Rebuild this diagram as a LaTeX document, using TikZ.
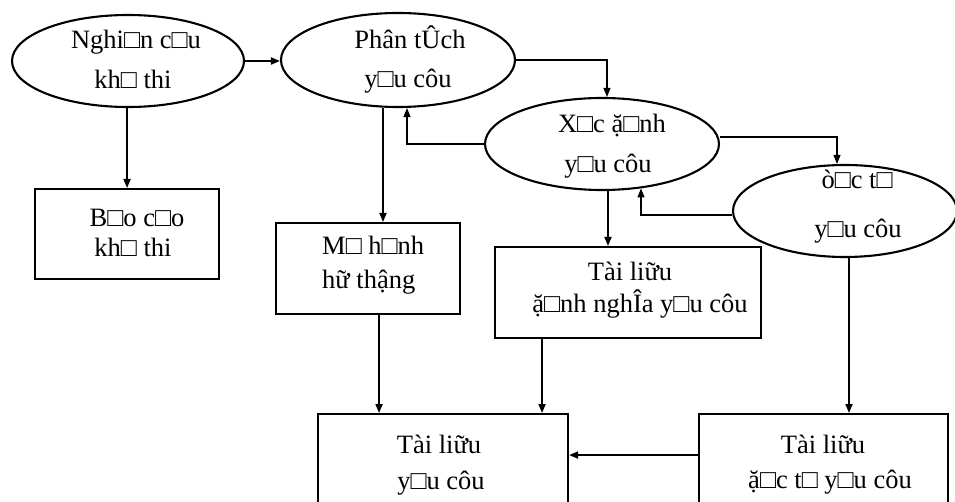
\documentclass[tikz,border=0pt]{standalone}
\usepackage{fontspec}
\setmainfont{Liberation Serif}
\usetikzlibrary{shapes.geometric,arrows.meta}
\begin{document}
\begin{tikzpicture}[x=1bp,y=-1bp,
  outline/.style={draw,line width=2.1bp},
  oval/.style={outline,ellipse,inner sep=0pt},
  card/.style={outline,rectangle,inner sep=0pt,anchor=north west},
  lbl/.style={anchor=base,inner sep=0pt,font=\fontsize{26.5bp}{30bp}\selectfont},
  lbll/.style={lbl,anchor=base west},
  arr/.style={line width=1.8bp,-{Triangle[length=9bp,width=7bp]}},
  fine/.style={line width=1.1bp,-{Triangle[length=9bp,width=7bp]}}]
\useasboundingbox (0,0) rectangle (955,502);

% process ovals
\node[oval,minimum width=232bp,minimum height=92bp] (e1) at (128,61) {};
\node[oval,minimum width=234bp,minimum height=94bp] (e2) at (398,60) {};
\node[oval,minimum width=234bp,minimum height=92bp] (e3) at (602,144) {};
\node[oval,minimum width=224bp,minimum height=92bp] (e4) at (845,211) {};

% document boxes
\node[card,minimum width=184bp,minimum height=90bp] (b1) at (34,188) {};
\node[card,minimum width=184bp,minimum height=91bp] (b2) at (275,222) {};
\node[card,minimum width=266bp,minimum height=91bp] (b3) at (494,246) {};
\node[card,minimum width=250bp,minimum height=120bp] (b4) at (317,413) {};
\node[card,minimum width=249bp,minimum height=120bp] (b5) at (698,413) {};

% labels
\node[lbl] (t1a) at (136,49) {Nghi□n c□u};
\node[lbl] (t1b) at (133,89) {kh□ thi};
\node[lbl] (t2a) at (410,49) {Phân tÛch};
\node[lbl] (t2b) at (408,88) {y□u côu};
\node[lbl] (t3a) at (612,133) {X□c ặ□nh};
\node[lbl] (t3b) at (608,173) {y□u côu};
\node[lbl] (t4a) at (857,189) {ò□c t□};
\node[lbl] (t4b) at (858,238) {y□u côu};
\node[lbl] (u1a) at (137,227) {B□o c□o};
\node[lbl] (u1b) at (133,257) {kh□ thi};
\node[lbll] (u2a) at (322,255) {M□ h□nh};
\node[lbll] (u2b) at (322,289) {hữ thậng};
\node[lbl] (u3a) at (630,281) {Tài liữu};
\node[lbl] (u3b) at (640,313) {ặ□nh nghÎa y□u côu};
\node[lbl] (u4a) at (439,453) {Tài liữu};
\node[lbl] (u4b) at (441,489) {y□u côu};
\node[lbl] (u5a) at (823,453) {Tài liữu};
\node[lbl] (u5b) at (830,488) {ặ□c t□ y□u côu};

% flow between ovals
\draw[arr] (e1.east) -- (e1.east -| e2.west);
\draw[fine] (e2.east) -| ([xshift=5bp]e3.north);
\draw[fine] ([yshift=7bp]e3.east) -| ([xshift=-8bp]e4.north);
\draw[fine] (e3.west) -| ([xshift=9bp]e2.south);
\draw[fine] ([yshift=-4bp]e4.west) -| ([xshift=39bp,yshift=2.6bp]e3.south);

% ovals to documents
\draw[arr] (e1.south -| b1.north) -- (b1.north);
\draw[arr] ([xshift=-15bp]e2.south) -- ([xshift=-15bp]e2.south |- b2.north);
\draw[arr] ([xshift=6bp]e3.south) -- ([xshift=6bp]e3.south |- b3.north);
\draw[arr] ([xshift=4bp]e4.south) -- ([xshift=4bp]e4.south |- b5.north);

% documents into the requirements document
\draw[arr] ([xshift=11bp]b2.south) -- ([xshift=11bp]b2.south |- b4.north);
\draw[arr] ([xshift=-86bp]b3.south) -- ([xshift=-86bp]b3.south |- b4.north);
\draw[arr] ([yshift=19bp]b5.west) -- ([yshift=19bp]b5.west -| b4.east);
\end{tikzpicture}
\end{document}
